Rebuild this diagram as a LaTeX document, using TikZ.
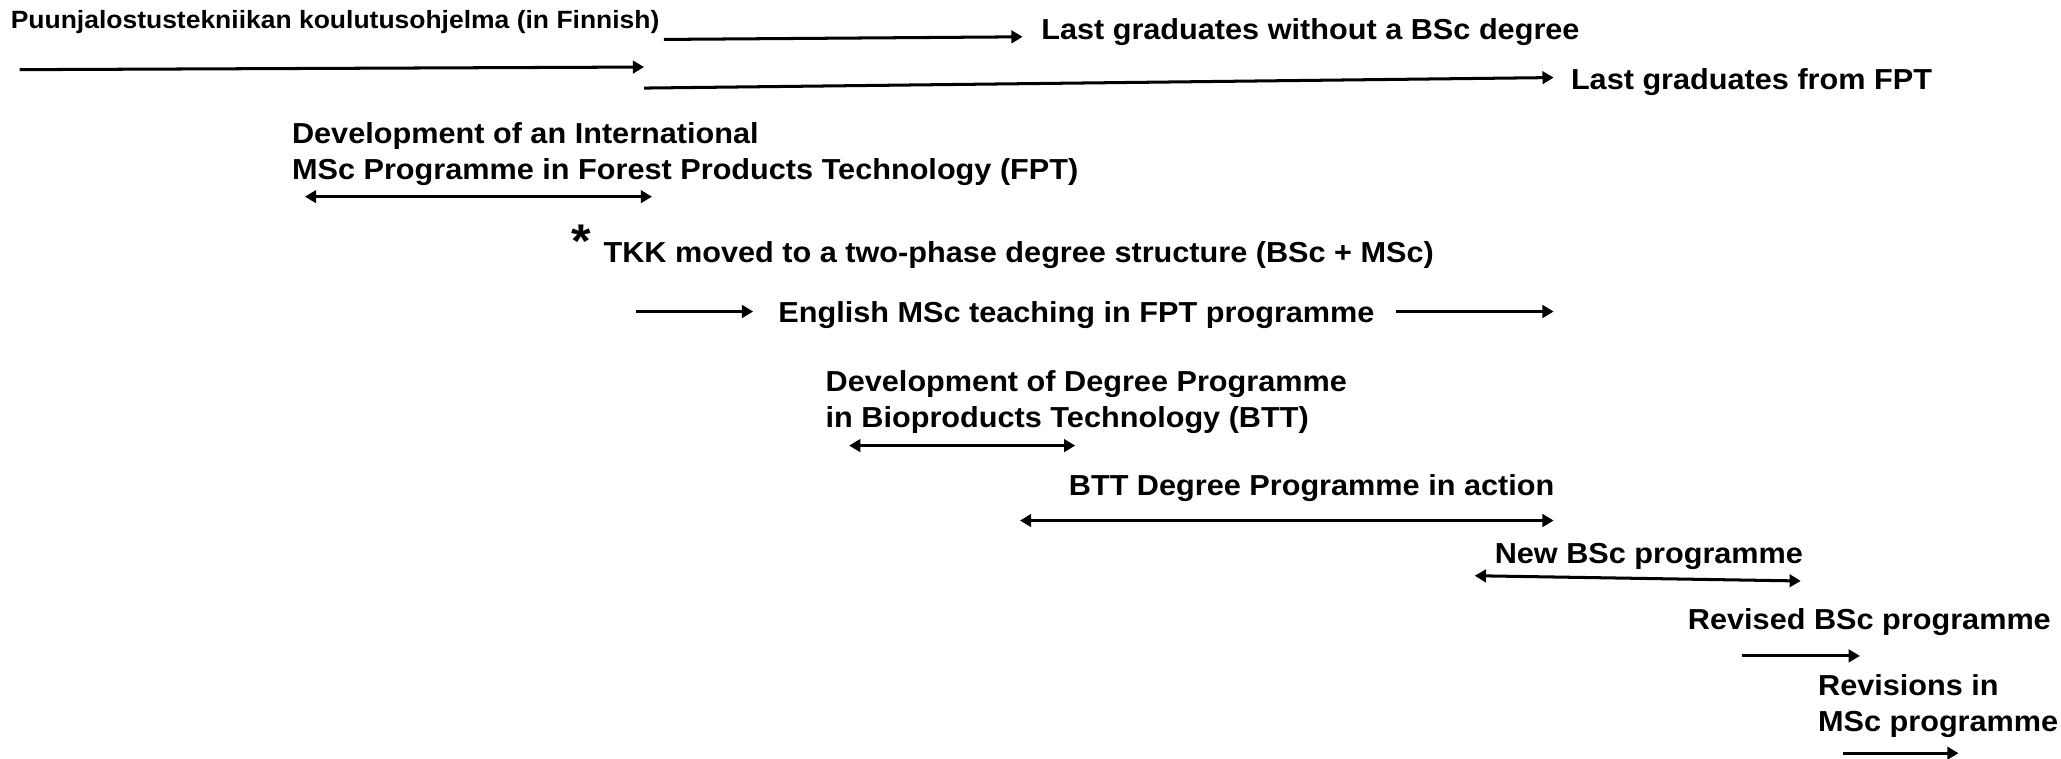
\documentclass[tikz,border=0pt]{standalone}
\usepackage{fontspec}
\setmainfont{Liberation Sans}[FakeStretch=1.06]
\usetikzlibrary{arrows.meta}
\begin{document}
\begin{tikzpicture}[x=1pt,y=-1pt,
  lbl/.style={anchor=base west, inner sep=0pt, font=\bfseries\fontsize{22}{27.5}\selectfont},
  smalllbl/.style={anchor=base west, inner sep=0pt, font=\bfseries\fontsize{19}{23}\selectfont},
  conn/.style={line width=2.3pt, -{Triangle[length=8.5pt,width=9.5pt]}},
  spanarrow/.style={line width=2.3pt, {Triangle[length=8.5pt,width=9.5pt]}-{Triangle[length=8.5pt,width=9.5pt]}}]
\useasboundingbox (0,0) rectangle (1568,576.7);
% labels
\node[smalllbl] (fin) at (8,22) {Puunjalostustekniikan koulutusohjelma (in Finnish)};
\node[lbl] (lastwo) at (792,30) {Last graduates without a BSc degree};
\node[lbl] (lastfpt) at (1195,68) {Last graduates from FPT};
\node[lbl] (devint) at (222,109) {\begin{tabular}[t]{@{}l@{}}Development of an International\\MSc Programme in Forest Products Technology (FPT)\end{tabular}};
\node[anchor=base, inner sep=0pt, font=\bfseries\fontsize{36}{36}\selectfont] (star) at (442.5,196) {*};
\node[lbl] (tkk) at (459,200) {TKK moved to a two-phase degree structure (BSc + MSc)};
\node[lbl] (eng) at (592,245) {English MSc teaching in FPT programme};
\node[lbl] (devbtt) at (628,298) {\begin{tabular}[t]{@{}l@{}}Development of Degree Programme\\in Bioproducts Technology (BTT)\end{tabular}};
\node[lbl] (btt) at (813,377) {BTT Degree Programme in action};
\node[lbl] (newbsc) at (1137,429) {New BSc programme};
\node[lbl] (revbsc) at (1284,479) {Revised BSc programme};
\node[lbl] (revmsc) at (1383,529) {\begin{tabular}[t]{@{}l@{}}Revisions in\\MSc programme\end{tabular}};
% arrow end points
\coordinate (a1s) at (505,30);   \coordinate (a1e) at (778,28);
\coordinate (a2s) at (15,53);    \coordinate (a2e) at (490,51);
\coordinate (a3s) at (490,67);   \coordinate (a3e) at (1182,59);
\coordinate (d1s) at (232,149.6);\coordinate (d1e) at (496,149.6);
\coordinate (e1s) at (484,237);  \coordinate (e1e) at (573,237);
\coordinate (e2s) at (1062,237); \coordinate (e2e) at (1182,237);
\coordinate (d2s) at (646,339);  \coordinate (d2e) at (818,339);
\coordinate (d3s) at (776,396);  \coordinate (d3e) at (1182,396);
\coordinate (d4s) at (1122,438); \coordinate (d4e) at (1370,442);
\coordinate (r1s) at (1325,499); \coordinate (r1e) at (1415,499);
\coordinate (r2s) at (1402,573); \coordinate (r2e) at (1490,573);
% arrows
\draw[conn] (a1s) -- (a1e);
\draw[conn] (a2s) -- (a2e);
\draw[conn] (a3s) -- (a3e);
\draw[spanarrow] (d1s) -- (d1e);
\draw[conn] (e1s) -- (e1e);
\draw[conn] (e2s) -- (e2e);
\draw[spanarrow] (d2s) -- (d2e);
\draw[spanarrow] (d3s) -- (d3e);
\draw[spanarrow] (d4s) -- (d4e);
\draw[conn] (r1s) -- (r1e);
\draw[conn] (r2s) -- (r2e);
\end{tikzpicture}
\end{document}
